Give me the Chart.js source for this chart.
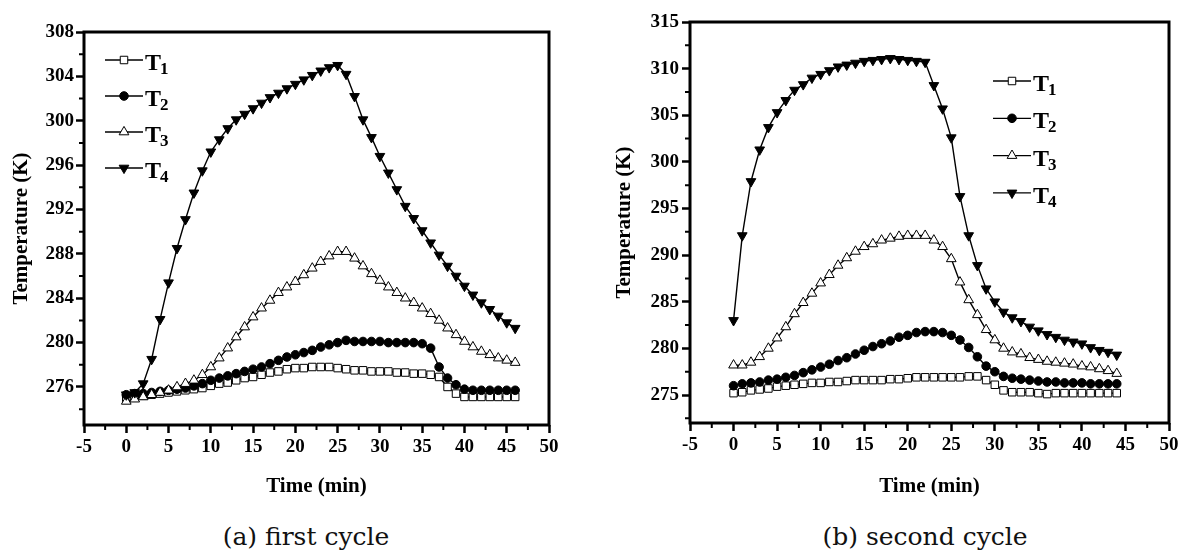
<!DOCTYPE html>
<html>
<head>
<meta charset="utf-8">
<script src="https://cdn.jsdelivr.net/npm/chart.js@4.4.1/dist/chart.umd.min.js"></script>
<style>
  body { margin: 0; background: #fff; width: 1183px; height: 553px; position: relative; overflow: hidden; }
  canvas { position: absolute; top: 0; }
  #cycle1 { left: 0; }
  #cycle2 { left: 585px; }
  .caption { position: absolute; top: 522px; line-height: 30px; font-family: 'DejaVu Serif', serif; font-size: 25px; color: #111; transform: translateX(-50%); white-space: nowrap; }
</style>
</head>
<body>
<canvas id="cycle1" width="580" height="510"></canvas>
<canvas id="cycle2" width="598" height="510"></canvas>
<div class="caption" style="left:306px">(a) first cycle</div>
<div class="caption" style="left:925px">(b) second cycle</div>
<script>
const seriesNames = ['T1', 'T2', 'T3', 'T4'];

// first cycle, one reading per minute
const time1 = [0, 1, 2, 3, 4, 5, 6, 7, 8, 9, 10, 11, 12, 13, 14, 15, 16, 17, 18, 19, 20, 21, 22, 23,
  24, 25, 26, 27, 28, 29, 30, 31, 32, 33, 34, 35, 36, 37, 38, 39, 40, 41, 42, 43, 44, 45, 46];
const t1First = [275.0, 275.1, 275.2, 275.3, 275.4, 275.5, 275.6, 275.7, 275.8, 275.9, 276.1, 276.3,
  276.4, 276.6, 276.8, 276.9, 277.1, 277.3, 277.4, 277.6, 277.7, 277.7, 277.8, 277.8, 277.8, 277.7,
  277.6, 277.5, 277.5, 277.4, 277.4, 277.4, 277.3, 277.3, 277.2, 277.2, 277.1, 276.9, 276.0, 275.4,
  275.1, 275.1, 275.1, 275.1, 275.1, 275.1, 275.1];
const t2First = [275.3, 275.4, 275.4, 275.5, 275.6, 275.7, 275.8, 275.9, 276.1, 276.3, 276.6, 276.8,
  277.0, 277.2, 277.4, 277.6, 277.8, 278.1, 278.4, 278.7, 278.9, 279.1, 279.3, 279.6, 279.8, 280.0,
  280.2, 280.1, 280.1, 280.1, 280.1, 280.0, 280.0, 280.0, 280.0, 279.9, 279.5, 277.8, 276.8, 276.2,
  275.8, 275.7, 275.7, 275.7, 275.7, 275.7, 275.7];
const t3First = [274.7, 274.9, 275.1, 275.3, 275.5, 275.7, 276.0, 276.3, 276.6, 277.1, 277.8, 278.6,
  279.5, 280.5, 281.4, 282.3, 283.1, 283.8, 284.5, 285.0, 285.5, 286.1, 286.7, 287.3, 287.8, 288.2,
  288.2, 287.6, 286.9, 286.2, 285.6, 285.0, 284.5, 284.0, 283.6, 283.1, 282.6, 282.0, 281.3, 280.7,
  280.1, 279.6, 279.2, 278.9, 278.6, 278.4, 278.2];
const t4First = [275.3, 275.5, 276.3, 278.5, 282.1, 285.4, 288.5, 291.1, 293.5, 295.5, 297.2, 298.3,
  299.3, 300.1, 300.6, 301.1, 301.6, 302.1, 302.5, 302.9, 303.3, 303.7, 304.1, 304.5, 304.8, 305.0,
  304.2, 302.2, 300.1, 298.5, 296.8, 295.3, 293.8, 292.3, 291.2, 290.1, 289.0, 287.9, 286.9, 286.0,
  285.1, 284.3, 283.6, 283.0, 282.4, 281.8, 281.3];

// second cycle
const time2 = [0, 1, 2, 3, 4, 5, 6, 7, 8, 9, 10, 11, 12, 13, 14, 15, 16, 17, 18, 19, 20, 21, 22, 23,
  24, 25, 26, 27, 28, 29, 30, 31, 32, 33, 34, 35, 36, 37, 38, 39, 40, 41, 42, 43, 44];
const t1Second = [275.2, 275.3, 275.5, 275.6, 275.7, 275.9, 276.0, 276.1, 276.2, 276.3, 276.3, 276.4,
  276.4, 276.5, 276.6, 276.6, 276.6, 276.6, 276.7, 276.7, 276.8, 276.9, 276.9, 276.9, 276.9, 276.9,
  276.9, 277.0, 277.0, 276.6, 276.1, 275.5, 275.3, 275.3, 275.3, 275.2, 275.1, 275.2, 275.2, 275.2,
  275.2, 275.2, 275.2, 275.2, 275.2];
const t2Second = [276.0, 276.2, 276.3, 276.4, 276.6, 276.7, 276.9, 277.1, 277.4, 277.7, 278.0, 278.3,
  278.7, 279.0, 279.4, 279.8, 280.2, 280.5, 280.8, 281.2, 281.4, 281.7, 281.8, 281.8, 281.7, 281.4,
  280.9, 280.1, 279.1, 278.1, 277.5, 277.0, 276.8, 276.7, 276.6, 276.5, 276.4, 276.4, 276.3, 276.3,
  276.3, 276.2, 276.2, 276.2, 276.2];
const t3Second = [278.2, 278.2, 278.5, 279.1, 280.0, 281.1, 282.3, 283.7, 284.9, 285.9, 287.0, 287.9,
  288.9, 289.7, 290.4, 290.9, 291.2, 291.6, 291.8, 292.0, 292.1, 292.1, 292.1, 291.6, 290.9, 289.6,
  287.1, 285.2, 283.6, 282.0, 280.9, 280.0, 279.6, 279.4, 279.0, 278.8, 278.6, 278.5, 278.4, 278.3,
  278.1, 278.0, 277.8, 277.6, 277.3];
const t4Second = [283.0, 292.1, 297.9, 301.3, 303.7, 305.3, 306.6, 307.7, 308.3, 309.0, 309.4, 309.8,
  310.2, 310.4, 310.6, 310.8, 310.9, 311.0, 311.1, 311.0, 310.9, 310.8, 310.7, 308.2, 305.7, 302.6,
  296.3, 292.1, 288.9, 286.4, 285.0, 283.9, 283.3, 282.9, 282.3, 281.9, 281.5, 281.2, 280.9, 280.7,
  280.5, 280.1, 279.8, 279.6, 279.3];

const xTicks = [-5, 0, 5, 10, 15, 20, 25, 30, 35, 40, 45, 50];
const xMinor = [-2.5, 2.5, 7.5, 12.5, 17.5, 22.5, 27.5, 32.5, 37.5, 42.5, 47.5];
const yTicks1 = [276, 280, 284, 288, 292, 296, 300, 304, 308];
const yMinor1 = [274, 278, 282, 286, 290, 294, 298, 302, 306];
const yTicks2 = [275, 280, 285, 290, 295, 300, 305, 310, 315];
const yMinor2 = [272.5, 277.5, 282.5, 287.5, 292.5, 297.5, 302.5, 307.5, 312.5];

const serif = "'Liberation Serif', 'Times New Roman', serif";

Chart.defaults.font.family = serif;
Chart.defaults.font.size = 19;
Chart.defaults.font.weight = 'bold';
Chart.defaults.color = '#000';

// open square, filled circle, open triangle, filled down-triangle
const markers = [
  { pointStyle: 'rect', fill: '#fff', radius: 5.3, rotation: 0 },
  { pointStyle: 'circle', fill: '#000', radius: 4.3, rotation: 0 },
  { pointStyle: 'triangle', fill: '#fff', radius: 5.6, rotation: 0 },
  { pointStyle: 'triangle', fill: '#000', radius: 5.6, rotation: 180 }
];

function drawMarker(ctx, m, x, y) {
  const r = m.radius;
  ctx.save();
  ctx.translate(x, y);
  ctx.rotate(m.rotation * Math.PI / 180);
  ctx.beginPath();
  if (m.pointStyle === 'rect') {
    const s = r * Math.SQRT1_2;
    ctx.rect(-s, -s, 2 * s, 2 * s);
  } else if (m.pointStyle === 'circle') {
    ctx.arc(0, 0, r, 0, Math.PI * 2);
  } else {
    ctx.moveTo(0, -r);
    ctx.lineTo(r * 0.866, r * 0.5);
    ctx.lineTo(-r * 0.866, r * 0.5);
    ctx.closePath();
  }
  ctx.fillStyle = m.fill;
  ctx.fill();
  ctx.lineWidth = 1;
  ctx.strokeStyle = '#000';
  ctx.stroke();
  ctx.restore();
}

// box frame, minor ticks and the in-plot legend
const framePlugin = {
  id: 'frame',
  afterDraw(chart, args, opts) {
    const { ctx, chartArea: a, scales: { x, y } } = chart;
    ctx.save();
    ctx.strokeStyle = '#000';
    ctx.lineWidth = 3;
    ctx.strokeRect(a.left, a.top, a.right - a.left, a.bottom - a.top);

    ctx.lineWidth = 2;
    ctx.beginPath();
    opts.xMinor.forEach(v => {
      const px = x.getPixelForValue(v);
      ctx.moveTo(px, a.bottom);
      ctx.lineTo(px, a.bottom + 5);
    });
    opts.yMinor.forEach(v => {
      const py = y.getPixelForValue(v);
      ctx.moveTo(a.left, py);
      ctx.lineTo(a.left - 5, py);
    });
    ctx.stroke();

    const lg = opts.legend;
    seriesNames.forEach((name, i) => {
      const ly = lg.y + i * lg.step;
      ctx.lineWidth = 1.3;
      ctx.strokeStyle = '#000';
      ctx.beginPath();
      ctx.moveTo(lg.x, ly);
      ctx.lineTo(lg.x + 38, ly);
      ctx.stroke();
      drawMarker(ctx, markers[i], lg.x + 19, ly);
      ctx.fillStyle = '#000';
      ctx.textBaseline = 'alphabetic';
      ctx.textAlign = 'left';
      ctx.font = 'bold 24px ' + serif;
      ctx.fillText(name[0], lg.x + 40, ly + 10);
      const w = ctx.measureText(name[0]).width;
      ctx.font = 'bold 17px ' + serif;
      ctx.fillText(name.slice(1), lg.x + 39 + w, ly + 14);
    });
    ctx.restore();
  }
};

function makeDatasets(times, series) {
  return series.map((vals, i) => ({
    label: seriesNames[i],
    data: times.map((t, k) => ({ x: t, y: vals[k] })),
    borderColor: '#000',
    borderWidth: 1.4,
    pointStyle: markers[i].pointStyle,
    pointRotation: markers[i].rotation,
    pointRadius: markers[i].radius,
    pointBackgroundColor: markers[i].fill,
    pointBorderColor: '#000',
    pointBorderWidth: 1,
    order: 4 - i
  }));
}

function makeChart(id, cfg) {
  const tickFont = { family: serif, size: 19, weight: 'bold' };
  const titleFont = { family: serif, size: 21, weight: 'bold', lineHeight: 1.2 };
  return new Chart(document.getElementById(id), {
    type: 'line',
    data: { datasets: makeDatasets(cfg.times, cfg.series) },
    options: {
      responsive: false,
      animation: false,
      layout: { padding: { top: cfg.padTop, right: cfg.padRight, left: 0, bottom: 0 } },
      scales: {
        x: {
          type: 'linear',
          min: -5,
          max: 50,
          afterBuildTicks: s => { s.ticks = xTicks.map(v => ({ value: v })); },
          afterFit: s => { s.height = cfg.xHeight; },
          ticks: { font: tickFont, color: '#000', padding: 3, maxRotation: 0, autoSkip: false },
          grid: { drawOnChartArea: false, drawTicks: true, tickLength: 8, tickWidth: 2.5, tickColor: '#000' },
          border: { display: false },
          title: { display: true, text: 'Time (min)', font: titleFont, color: '#000', padding: { top: 0, bottom: 10.4 } }
        },
        y: {
          type: 'linear',
          min: cfg.yMin,
          max: cfg.yMax,
          afterBuildTicks: s => { s.ticks = cfg.yTicks.map(v => ({ value: v })); },
          afterFit: s => { s.width = cfg.yWidth; },
          ticks: { font: tickFont, color: '#000', padding: cfg.yLabelPad },
          grid: { drawOnChartArea: false, drawTicks: true, tickLength: 8, tickWidth: 2.5, tickColor: '#000' },
          border: { display: false },
          title: { display: true, text: 'Temperature (K)', font: titleFont, color: '#000', padding: { top: cfg.yTitlePad, bottom: 0 } }
        }
      },
      plugins: {
        legend: { display: false },
        tooltip: { enabled: false },
        frame: { xMinor: xMinor, yMinor: cfg.yMinor, legend: cfg.legend }
      }
    },
    plugins: [framePlugin]
  });
}

makeChart('cycle1', {
  times: time1,
  series: [t1First, t2First, t3First, t4First],
  yMin: 272.57, yMax: 308, yTicks: yTicks1, yMinor: yMinor1,
  padTop: 32, padRight: 31, xHeight: 85, yWidth: 84, yLabelPad: 2, yTitlePad: 9.4,
  legend: { x: 105, y: 60, step: 36 }
});

makeChart('cycle2', {
  times: time2,
  series: [t1Second, t2Second, t3Second, t4Second],
  yMin: 272, yMax: 315, yTicks: yTicks2, yMinor: yMinor2,
  padTop: 22, padRight: 14, xHeight: 87, yWidth: 105, yLabelPad: 3, yTitlePad: 27.4,
  legend: { x: 408, y: 81, step: 37.3 }
});
</script>
</body>
</html>
